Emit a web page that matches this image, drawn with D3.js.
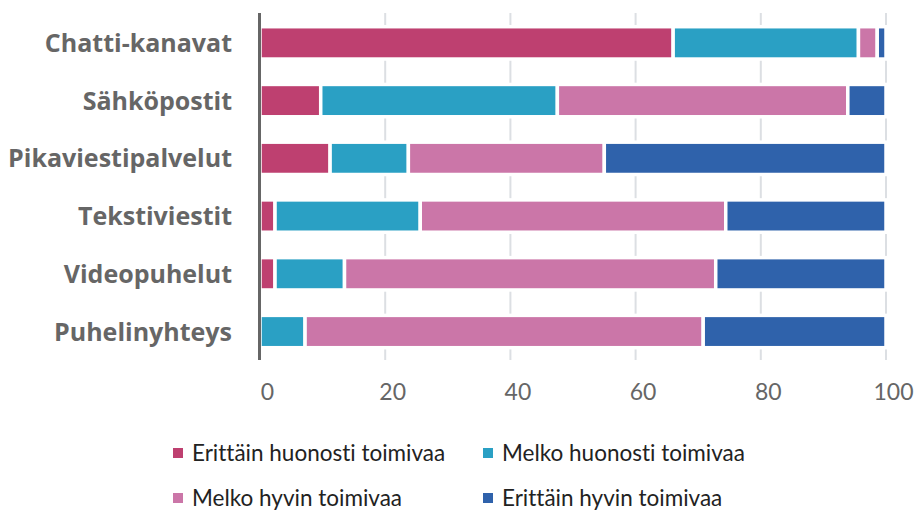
<!DOCTYPE html>
<html>
<head>
<meta charset="utf-8">
<script src="https://cdn.jsdelivr.net/npm/d3@7"></script>
<style>
  body { margin: 0; background: #fff; }
  svg { display: block; font-family: Lato, "Noto Sans", sans-serif; font-variant-ligatures: none; }
</style>
</head>
<body>
<div class="main"></div>
<script>
const width = 918;
const height = 513;

// categories, top to bottom
const categories = ["Chatti-kanavat", "Sähköpostit", "Pikaviestipalvelut", "Tekstiviestit", "Videopuhelut", "Puhelinyhteys"];
const seriesNames = ["Erittäin huonosti toimivaa", "Melko huonosti toimivaa", "Melko hyvin toimivaa", "Erittäin hyvin toimivaa"];
const colors = ["#be4070", "#2aa0c4", "#cb76a8", "#2f62ab"];

// percent per category, one array per series
const erittainHuonosti = [66.0, 9.7, 11.2, 2.4, 2.4, 0];
const melkoHuonosti = [29.6, 37.8, 12.5, 23.2, 11.1, 7.2];
const melkoHyvin = [3.0, 46.4, 31.3, 48.8, 59.3, 63.6];
const erittainHyvin = [1.4, 6.1, 45.0, 25.6, 27.2, 29.2];
const xTicks = [0, 20, 40, 60, 80, 100];

const table = categories.map((c, i) => ({
  category: c,
  [seriesNames[0]]: erittainHuonosti[i],
  [seriesNames[1]]: melkoHuonosti[i],
  [seriesNames[2]]: melkoHyvin[i],
  [seriesNames[3]]: erittainHyvin[i]
}));

const stacked = d3.stack().keys(seriesNames)(table);

const x = d3.scaleLinear()
  .domain([0, 100])
  .range([260, 886]);

const y = d3.scaleBand()
  .domain(categories)
  .range([14, 360.4])
  .paddingInner(0.44)
  .paddingOuter(0.22);

const color = d3.scaleOrdinal().domain(seriesNames).range(colors);

const svg = d3.select('.main')
  .append("svg")
    .attr("width", width)
    .attr("height", height);

// grid
svg.append("g")
  .selectAll("line")
  .data(xTicks.slice(1))
  .join("line")
    .attr("x1", (d) => x(d))
    .attr("x2", (d) => x(d))
    .attr("y1", 13)
    .attr("y2", 360)
    .attr("stroke", "#dcdfe3")
    .attr("stroke-width", 2);

// bars
svg.append("g")
  .selectAll("g")
  .data(stacked)
  .join("g")
    .attr("fill", (d) => color(d.key))
  .selectAll("rect")
  .data((d) => d.filter((s) => s[1] - s[0] > 0))
  .join("rect")
    .attr("x", (d) => x(d[0]))
    .attr("y", (d) => y(d.data.category))
    .attr("width", (d) => x(d[1]) - x(d[0]))
    .attr("height", y.bandwidth())
    .attr("stroke", "#fff")
    .attr("stroke-width", 3.5);

// y axis line
svg.append("line")
  .attr("x1", 259.5)
  .attr("x2", 259.5)
  .attr("y1", 13)
  .attr("y2", 360)
  .attr("stroke", "#666")
  .attr("stroke-width", 3);

// category labels
svg.append("g")
  .selectAll("text")
  .data(categories)
  .join("text")
    .attr("x", 232)
    .attr("y", (d) => y(d) + y.bandwidth() / 2)
    .attr("dy", "0.36em")
    .attr("text-anchor", "end")
    .attr("font-family", "'Open Sans', sans-serif")
    .attr("font-size", "25px")
    .attr("font-weight", "bold")
    .attr("fill", "#666")
    .text((d) => d);

// x axis tick labels
const xAxis = d3.axisBottom(x)
  .tickValues(xTicks)
  .tickSize(0)
  .tickPadding(0);

const gx = svg.append("g")
  .attr("transform", "translate(7,384)")
  .call(xAxis);
gx.select(".domain").remove();
gx.selectAll("text")
  .attr("font-family", "Lato, 'Noto Sans', sans-serif")
  .attr("font-size", "23px")
  .attr("fill", "#666");

// legend
const legendPos = [[173, 453], [483, 453], [173, 498], [483, 498]];
const legend = svg.append("g")
  .selectAll("g")
  .data(seriesNames)
  .join("g")
    .attr("transform", (d, i) => `translate(${legendPos[i][0]},${legendPos[i][1]})`);

legend.append("rect")
  .attr("x", 0)
  .attr("y", -5)
  .attr("width", 10)
  .attr("height", 10)
  .attr("fill", (d) => color(d));

legend.append("text")
  .attr("x", 19)
  .attr("y", 0)
  .attr("dy", "0.35em")
  .attr("font-size", "22.5px")
  .attr("fill", "#222")
  .text((d) => d);
</script>
</body>
</html>
